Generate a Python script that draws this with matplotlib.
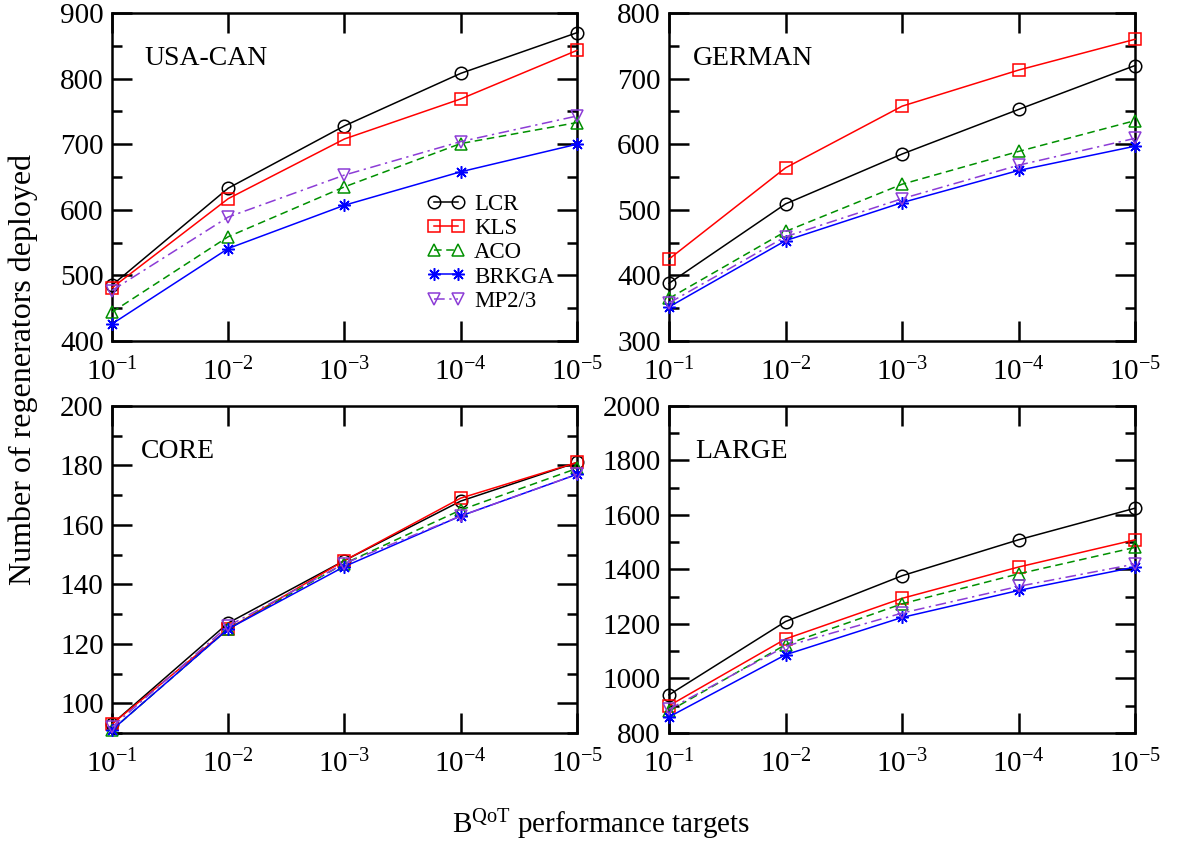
import matplotlib
matplotlib.use('Agg')
import matplotlib.pyplot as plt
from matplotlib.ticker import MultipleLocator, NullLocator

plt.rcParams['font.family'] = ['Liberation Serif', 'DejaVu Serif']
plt.rcParams['mathtext.fontset'] = 'custom'
plt.rcParams['mathtext.rm'] = 'Liberation Serif'
plt.rcParams['mathtext.it'] = 'Liberation Serif:italic'
plt.rcParams['mathtext.bf'] = 'Liberation Serif:bold'

# BER QoT targets
targets = [1e-1, 1e-2, 1e-3, 1e-4, 1e-5]
target_labels = [r'$10^{-1}$', r'$10^{-2}$', r'$10^{-3}$', r'$10^{-4}$', r'$10^{-5}$']

methods = ['LCR', 'KLS', 'ACO', 'BRKGA', 'MP2/3']

usacan_lcr = [485, 633, 728, 808, 870]
usacan_kls = [481, 617, 708, 769, 843]
usacan_aco = [444, 559, 635, 701, 733]
usacan_brkga = [426, 541, 607, 658, 700]
usacan_mp23 = [477, 589, 653, 704, 743]

german_lcr = [388, 509, 585, 653, 720]
german_kls = [425, 564, 658, 713, 760]
german_aco = [365, 467, 539, 589, 636]
german_brkga = [352, 453, 511, 560, 597]
german_mp23 = [358, 459, 517, 568, 609]

core_lcr = [93, 127, 148, 168, 181]
core_kls = [93, 125, 148, 169, 181]
core_aco = [91, 125, 147, 165, 179]
core_brkga = [91, 125, 146, 163, 177]
core_mp23 = [92, 126, 147, 163, 177]

large_lcr = [940, 1209, 1377, 1509, 1625]
large_kls = [900, 1145, 1294, 1409, 1509]
large_aco = [880, 1124, 1274, 1384, 1481]
large_brkga = [859, 1087, 1224, 1323, 1409]
large_mp23 = [887, 1118, 1240, 1338, 1420]

colors = ['black', '#ff0000', '#009000', '#0000ff', '#8c3cd6']
markers = ['o', 's', '^', (8, 2, 0), 'v']
styles = ['-', '-', (0, (5, 3)), '-', (0, (7, 3, 1.5, 3))]
sizes = [9, 8, 8, 9, 8.5]

panels = [
    ('USA-CAN', [usacan_lcr, usacan_kls, usacan_aco, usacan_brkga, usacan_mp23],
     (400, 900), 100, 50, [0.0948, 0.5969, 0.3937, 0.3877], 0.07),
    ('GERMAN', [german_lcr, german_kls, german_aco, german_brkga, german_mp23],
     (300, 800), 100, 50, [0.5665, 0.5969, 0.3946, 0.3877], 0.052),
    ('CORE', [core_lcr, core_kls, core_aco, core_brkga, core_mp23],
     (90, 200), 20, 10, [0.0948, 0.1336, 0.3937, 0.3865], 0.062),
    ('LARGE', [large_lcr, large_kls, large_aco, large_brkga, large_mp23],
     (800, 2000), 200, 100, [0.5665, 0.1336, 0.3946, 0.3865], 0.056),
]

fig = plt.figure(figsize=(11.81, 8.46), dpi=100)

axes = []
for name, series, ylim, major, minor, pos, tx in panels:
    ax = fig.add_axes(pos)
    for vals, c, m, ls, ms, lab in zip(series, colors, markers, styles, sizes, methods):
        ax.plot(targets, vals, color=c, marker=m, linestyle=ls, linewidth=1.1,
                markersize=ms, markerfacecolor='none', markeredgecolor=c,
                markeredgewidth=1.1, clip_on=False, label=lab, zorder=3)
    ax.set_xscale('log')
    ax.set_xlim(1e-1, 1e-5)
    ax.set_ylim(*ylim)
    ax.set_xticks(targets, labels=target_labels)
    ax.xaxis.set_minor_locator(NullLocator())
    ax.yaxis.set_major_locator(MultipleLocator(major))
    ax.yaxis.set_minor_locator(MultipleLocator(minor))
    if name == 'CORE':
        ax.set_yticks([100, 120, 140, 160, 180, 200])
    ax.tick_params(which='both', direction='in', top=True, right=True, width=1.8,
                   labelsize=21, colors='black')
    ax.tick_params(which='major', length=14.5)
    ax.tick_params(which='minor', length=7.3)
    ax.tick_params(axis='x', pad=12)
    ax.tick_params(axis='y', pad=6)
    for sp in ax.spines.values():
        sp.set_linewidth(1.8)
    ax.text(tx, 0.9, name, transform=ax.transAxes, ha='left', va='top', fontsize=20)
    axes.append(ax)

axes[0].legend(loc='upper left', bbox_to_anchor=(0.677, 0.447), frameon=False,
               fontsize=16.5, numpoints=2, handlelength=1.65, handletextpad=0.42,
               labelspacing=0.13, borderpad=0, borderaxespad=0)

fig.text(0.0195, 0.563, 'Number of regenerators deployed', rotation=90,
         ha='center', va='center', fontsize=23)
fig.text(0.509, 0.0154, r'B$^{\mathrm{QoT}}$ performance targets',
         ha='center', va='baseline', fontsize=21)

fig.savefig('out.png', dpi=100)
